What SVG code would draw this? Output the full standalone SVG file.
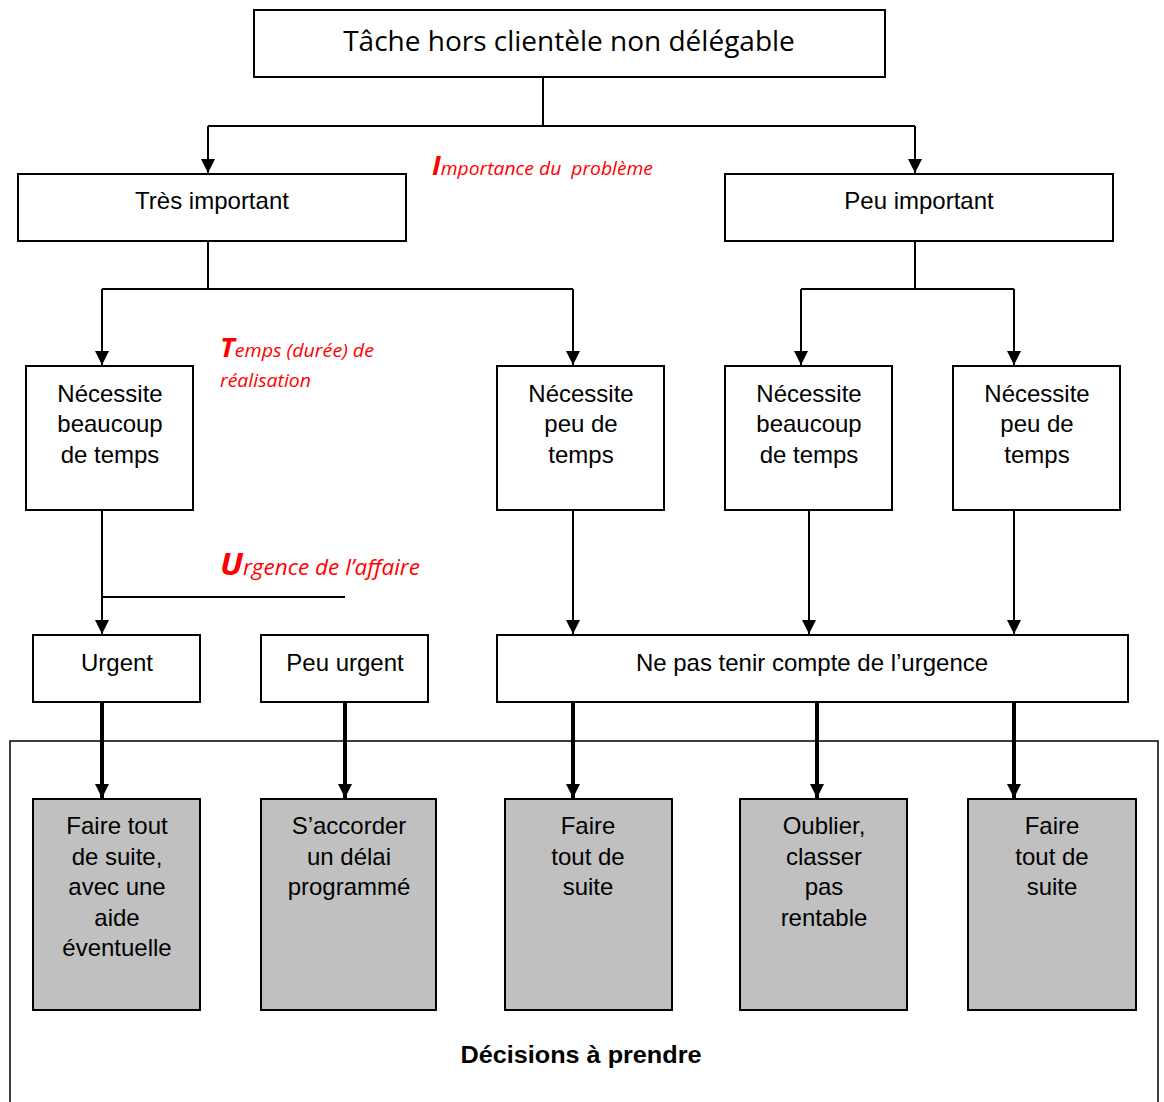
<svg xmlns="http://www.w3.org/2000/svg" width="1164" height="1102" viewBox="0 0 1164 1102">
<defs>
<marker id="ah" viewBox="0 0 10 10" refX="10" refY="5" markerWidth="14" markerHeight="14" markerUnits="userSpaceOnUse" orient="auto"><path d="M0,0 L10,5 L0,10 z" fill="#000"/></marker>
<marker id="ahb" viewBox="0 0 10 10" refX="10" refY="5" markerWidth="14" markerHeight="14" markerUnits="userSpaceOnUse" orient="auto"><path d="M0,0 L10,5 L0,10 z" fill="#000"/></marker>
</defs>
<style>
.box{fill:#fff;stroke:#000;stroke-width:2}
.gbox{fill:#c0c0c0;stroke:#000;stroke-width:2}
.t{font-family:"Liberation Sans",Arial,sans-serif;font-size:24px;fill:#000;text-anchor:middle}
.title{font-family:"Open Sans","Noto Sans",sans-serif;font-size:28px;fill:#000;text-anchor:middle}
.ln{stroke:#000;stroke-width:2;fill:none}
.arr{stroke:#000;stroke-width:2;fill:none;marker-end:url(#ah)}
.arrb{stroke:#000;stroke-width:4;fill:none;marker-end:url(#ahb)}
.red{font-family:"Open Sans","Noto Sans",sans-serif;font-style:italic;font-size:19px;fill:#ff0000}
.big{font-weight:bold;font-size:27px}
.bold{font-family:"Liberation Sans",Arial,sans-serif;font-size:24px;font-weight:bold;fill:#000;text-anchor:middle}
</style>
<rect width="1164" height="1102" fill="#fff"/>
<g id="decisions-frame"><rect x="10" y="741" width="1148" height="380" fill="none" stroke="#000" stroke-width="1.5"/>
<text class="bold" x="581" y="1063" textLength="241" lengthAdjust="spacingAndGlyphs">Décisions à prendre</text></g>
<g id="connectors">
<path class="ln" d="M543,77 V126 M208,126 H915"/>
<path class="arr" d="M208,126 V173"/>
<path class="arr" d="M915,126 V173"/>
<path class="ln" d="M208,241 V289 M102,289 H573"/>
<path class="arr" d="M102,289 V365"/>
<path class="arr" d="M573,289 V365"/>
<path class="ln" d="M915,241 V289 M801,289 H1014"/>
<path class="arr" d="M801,289 V365"/>
<path class="arr" d="M1014,289 V365"/>
<path class="arr" d="M102,510 V634"/>
<path class="ln" d="M102,597 H345"/>
<path class="arr" d="M573,510 V634"/>
<path class="arr" d="M809,510 V634"/>
<path class="arr" d="M1014,510 V634"/>
<path class="arrb" d="M102,702 V798"/>
<path class="arrb" d="M345,702 V798"/>
<path class="arrb" d="M573,702 V798"/>
<path class="arrb" d="M817,702 V798"/>
<path class="arrb" d="M1014,702 V798"/>
</g>
<g id="labels">
<text class="red" x="432" y="175" textLength="221" lengthAdjust="spacingAndGlyphs" xml:space="preserve"><tspan class="big">I</tspan>mportance du  problème</text>
<text class="red" x="220" y="357" textLength="154" lengthAdjust="spacingAndGlyphs"><tspan class="big">T</tspan>emps (durée) de</text>
<text class="red" x="220" y="387" textLength="91" lengthAdjust="spacingAndGlyphs">réalisation</text>
<text class="red" x="220" y="575" textLength="200" lengthAdjust="spacingAndGlyphs" style="font-size:21px"><tspan class="big" style="font-size:31px">U</tspan>rgence de l’affaire</text>
</g>
<g id="n-root"><rect class="box" x="254" y="10" width="631" height="67"/><text class="title" x="569" y="51">Tâche hors clientèle non délégable</text></g>
<g id="n-tres"><rect class="box" x="18" y="174" width="388" height="67"/><text class="t" x="212" y="209">Très important</text></g>
<g id="n-peu"><rect class="box" x="725" y="174" width="388" height="67"/><text class="t" x="919" y="209">Peu important</text></g>
<g id="n-b1"><rect class="box" x="26" y="366" width="167" height="144"/><text class="t" x="110" y="402">Nécessite</text><text class="t" x="110" y="432">beaucoup</text><text class="t" x="110" y="463">de temps</text></g>
<g id="n-p1"><rect class="box" x="497" y="366" width="167" height="144"/><text class="t" x="581" y="402">Nécessite</text><text class="t" x="581" y="432">peu de</text><text class="t" x="581" y="463">temps</text></g>
<g id="n-b2"><rect class="box" x="725" y="366" width="167" height="144"/><text class="t" x="809" y="402">Nécessite</text><text class="t" x="809" y="432">beaucoup</text><text class="t" x="809" y="463">de temps</text></g>
<g id="n-p2"><rect class="box" x="953" y="366" width="167" height="144"/><text class="t" x="1037" y="402">Nécessite</text><text class="t" x="1037" y="432">peu de</text><text class="t" x="1037" y="463">temps</text></g>
<g id="n-urgent"><rect class="box" x="33" y="635" width="167" height="67"/><text class="t" x="117" y="671">Urgent</text></g>
<g id="n-peuurgent"><rect class="box" x="261" y="635" width="167" height="67"/><text class="t" x="345" y="671">Peu urgent</text></g>
<g id="n-nepas"><rect class="box" x="497" y="635" width="631" height="67"/><text class="t" x="812" y="671">Ne pas tenir compte de l’urgence</text></g>
<g id="d1"><rect class="gbox" x="33" y="799" width="167" height="211"/><text class="t" x="117" y="834">Faire tout</text><text class="t" x="117" y="865">de suite,</text><text class="t" x="117" y="895">avec une</text><text class="t" x="117" y="926">aide</text><text class="t" x="117" y="956">éventuelle</text></g>
<g id="d2"><rect class="gbox" x="261" y="799" width="175" height="211"/><text class="t" x="349" y="834">S’accorder</text><text class="t" x="349" y="865">un délai</text><text class="t" x="349" y="895">programmé</text></g>
<g id="d3"><rect class="gbox" x="505" y="799" width="167" height="211"/><text class="t" x="588" y="834">Faire</text><text class="t" x="588" y="865">tout de</text><text class="t" x="588" y="895">suite</text></g>
<g id="d4"><rect class="gbox" x="740" y="799" width="167" height="211"/><text class="t" x="824" y="834">Oublier,</text><text class="t" x="824" y="865">classer</text><text class="t" x="824" y="895">pas</text><text class="t" x="824" y="926">rentable</text></g>
<g id="d5"><rect class="gbox" x="968" y="799" width="168" height="211"/><text class="t" x="1052" y="834">Faire</text><text class="t" x="1052" y="865">tout de</text><text class="t" x="1052" y="895">suite</text></g>
</svg>
